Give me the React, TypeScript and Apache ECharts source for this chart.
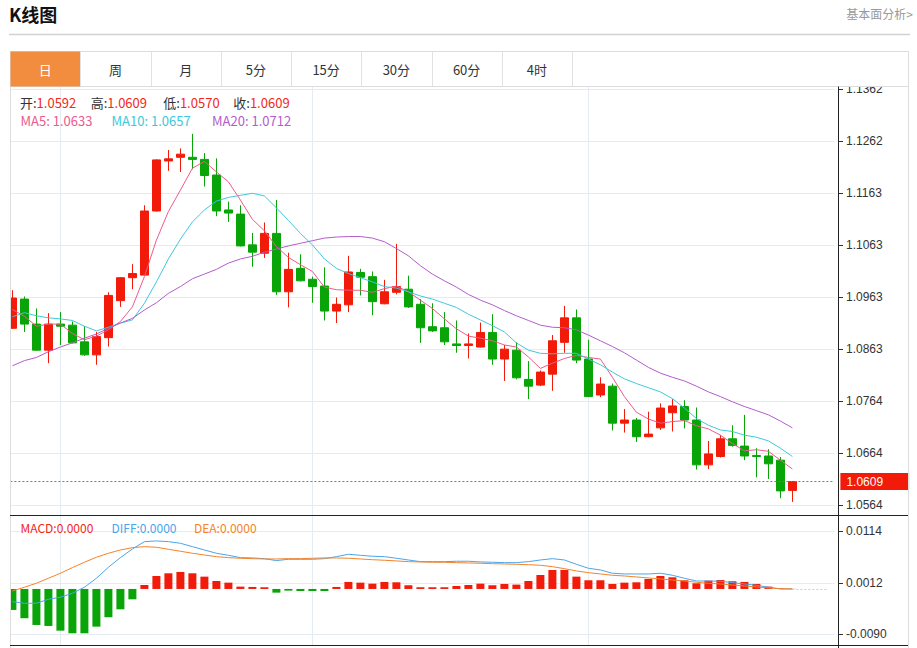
import React, { useEffect, useRef } from 'react';
import * as echarts from 'echarts';

// ---------- data ----------
const categories: string[] = Array.from({ length: 69 }, (_, i) => String(i + 1));

// [open, close, low, high]
const candles: number[][] = [
  [1.0903, 1.0961, 1.0902, 1.0976], [1.0959, 1.0911, 1.0896, 1.0964], [1.0911, 1.0861, 1.0860, 1.0941],
  [1.0861, 1.0911, 1.0836, 1.0932], [1.0911, 1.0907, 1.0871, 1.0934], [1.0909, 1.0875, 1.0874, 1.0916],
  [1.0877, 1.0852, 1.0850, 1.0907], [1.0852, 1.0887, 1.0833, 1.0896], [1.0885, 1.0966, 1.0868, 1.0972],
  [1.0956, 1.1000, 1.0944, 1.1001], [1.1000, 1.1008, 1.0978, 1.1026], [1.1005, 1.1128, 1.1004, 1.1139],
  [1.1128, 1.1226, 1.1127, 1.1227], [1.1224, 1.1228, 1.1205, 1.1245], [1.1231, 1.1237, 1.1203, 1.1248],
  [1.1231, 1.1227, 1.1208, 1.1276], [1.1227, 1.1196, 1.1175, 1.1239], [1.1197, 1.1128, 1.1118, 1.1229],
  [1.1130, 1.1124, 1.1107, 1.1146], [1.1122, 1.1061, 1.1060, 1.1139], [1.1063, 1.1049, 1.1021, 1.1086],
  [1.1047, 1.1085, 1.1038, 1.1106], [1.1085, 1.0973, 1.0967, 1.1149], [1.0973, 1.1016, 1.0943, 1.1048],
  [1.1018, 1.0994, 1.0993, 1.1045], [1.0997, 1.0983, 1.0952, 1.1002], [1.0984, 1.0936, 1.0918, 1.1020],
  [1.0936, 1.0949, 1.0913, 1.0962], [1.0948, 1.1011, 1.0934, 1.1042], [1.1010, 1.1001, 1.0966, 1.1017],
  [1.1002, 1.0954, 1.0928, 1.1012], [1.0950, 1.0973, 1.0949, 1.0996], [1.0972, 1.0983, 1.0968, 1.1065],
  [1.0978, 1.0944, 1.0942, 1.1004], [1.0949, 1.0904, 1.0875, 1.0959], [1.0906, 1.0898, 1.0896, 1.0951],
  [1.0904, 1.0877, 1.0871, 1.0934], [1.0873, 1.0870, 1.0856, 1.0918], [1.0870, 1.0873, 1.0845, 1.0893],
  [1.0867, 1.0895, 1.0866, 1.0914], [1.0895, 1.0844, 1.0833, 1.0930], [1.0844, 1.0863, 1.0802, 1.0871],
  [1.0861, 1.0808, 1.0805, 1.0876], [1.0805, 1.0792, 1.0767, 1.0840], [1.0794, 1.0819, 1.0792, 1.0822],
  [1.0815, 1.0879, 1.0783, 1.0890], [1.0876, 1.0923, 1.0856, 1.0946], [1.0923, 1.0842, 1.0836, 1.0939],
  [1.0844, 1.0772, 1.0771, 1.0881], [1.0775, 1.0796, 1.0771, 1.0809], [1.0792, 1.0721, 1.0707, 1.0797],
  [1.0721, 1.0727, 1.0703, 1.0748], [1.0727, 1.0695, 1.0685, 1.0731], [1.0695, 1.0700, 1.0694, 1.0743],
  [1.0712, 1.0750, 1.0708, 1.0759], [1.0741, 1.0754, 1.0705, 1.0767], [1.0753, 1.0727, 1.0711, 1.0765],
  [1.0727, 1.0641, 1.0632, 1.0751], [1.0641, 1.0662, 1.0633, 1.0687], [1.0657, 1.0691, 1.0655, 1.0698],
  [1.0691, 1.0678, 1.0676, 1.0717], [1.0677, 1.0658, 1.0650, 1.0737], [1.0659, 1.0657, 1.0617, 1.0673],
  [1.0658, 1.0643, 1.0614, 1.0671], [1.0650, 1.0591, 1.0577, 1.0656], [1.0592, 1.0609, 1.0570, 1.0609],
];

const ma5: number[] = [
  1.0939, 1.0926, 1.0907, 1.0911, 1.0911, 1.0893, 1.0881, 1.0888, 1.0900, 1.0916,
  1.0944, 1.1002, 1.1072, 1.1127, 1.1168, 1.1210, 1.1223, 1.1203, 1.1184, 1.1149,
  1.1112, 1.1090, 1.1060, 1.1039, 1.1025, 1.1012, 1.0982, 1.0977, 1.0976, 1.0976,
  1.0972, 1.0979, 1.0984, 1.0973, 1.0957, 1.0941, 1.0921, 1.0902, 1.0888, 1.0884,
  1.0879, 1.0871, 1.0867, 1.0848, 1.0826, 1.0836, 1.0845, 1.0851, 1.0847, 1.0844,
  1.0809, 1.0772, 1.0742, 1.0729, 1.0721, 1.0724, 1.0726, 1.0716, 1.0710, 1.0698,
  1.0682, 1.0668, 1.0670, 1.0667, 1.0650, 1.0633,
];
const ma10: number[] = [
  1.0925, 1.0933, 1.0927, 1.0923, 1.0921, 1.0918, 1.0907, 1.0898, 1.0905, 1.0913,
  1.0919, 1.0951, 1.0992, 1.1036, 1.1074, 1.1107, 1.1130, 1.1147, 1.1154, 1.1158,
  1.1162, 1.1157, 1.1134, 1.1110, 1.1085, 1.1063, 1.1036, 1.1018, 1.1008, 1.1000,
  1.0992, 1.0983, 1.0980, 1.0973, 1.0965, 1.0959, 1.0951, 1.0943, 1.0930, 1.0919,
  1.0908, 1.0896, 1.0875, 1.0861, 1.0855, 1.0854, 1.0855, 1.0855, 1.0844, 1.0833,
  1.0819, 1.0806, 1.0797, 1.0789, 1.0781, 1.0768, 1.0750, 1.0730, 1.0717, 1.0708,
  1.0705, 1.0698, 1.0694, 1.0687, 1.0673, 1.0657,
];
const ma20: number[] = [
  1.0831, 1.0841, 1.0847, 1.0858, 1.0867, 1.0875, 1.0884, 1.0892, 1.0903, 1.0913,
  1.0922, 1.0938, 1.0952, 1.0970, 1.0983, 1.0998, 1.1007, 1.1016, 1.1028, 1.1036,
  1.1041, 1.1049, 1.1055, 1.1061, 1.1066, 1.1071, 1.1076, 1.1078, 1.1079, 1.1079,
  1.1076, 1.1069, 1.1056, 1.1042, 1.1023, 1.1007, 1.0994, 1.0982, 1.0968, 1.0957,
  1.0948, 1.0937, 1.0927, 1.0918, 1.0909, 1.0905, 1.0904, 1.0900, 1.0890, 1.0879,
  1.0868, 1.0856, 1.0842, 1.0828, 1.0817, 1.0809, 1.0802, 1.0792, 1.0781, 1.0772,
  1.0762, 1.0753, 1.0745, 1.0737, 1.0725, 1.0712,
];

const macdHist: number[] = [
  -0.00416, -0.0058, -0.00713, -0.00733, -0.00826, -0.00878, -0.00878, -0.00746, -0.0056, -0.00403, -0.00205,
  0.00079, 0.00257, 0.0031, 0.00337, 0.0031, 0.00244, 0.00158, 0.00125, 0.00046, 0.0004, 0.00034,
  -0.00073, -0.00033, -0.0004, -0.0004, -0.0004,
  0.0004, 0.00139, 0.00125, 0.00105, 0.00139, 0.00132, 0.00073, 0.00034, 0.00034, 0.00034,
  0.00059, 0.00079, 0.00105, 0.00073, 0.00099, 0.00086, 0.00158, 0.00277, 0.00376, 0.00376,
  0.00244, 0.00172, 0.00172, 0.00099, 0.00125, 0.00132, 0.00198, 0.00257, 0.00231, 0.00172,
  0.00112, 0.00165, 0.00178, 0.00152, 0.00139, 0.00099, 0.00046, 0.00014, 0.00002,
];
const diffLine: number[] = [
  -0.00252, -0.00283, -0.00283, -0.00204, -0.00164, -0.00085, 0.00034, 0.00212, 0.0043, 0.0062, 0.00792,
  0.00937, 0.00951, 0.00937, 0.00905, 0.00838, 0.00772, 0.00707, 0.00667, 0.0062, 0.00614,
  0.006, 0.00561, 0.00588, 0.00588, 0.00588, 0.006, 0.0064, 0.00687, 0.00667, 0.00648,
  0.0064, 0.00608, 0.00574, 0.00541, 0.00541, 0.00541, 0.00549, 0.00549, 0.00535, 0.00529,
  0.00521, 0.00521, 0.00541, 0.00574, 0.006, 0.00574, 0.00489, 0.0041, 0.00376, 0.00311,
  0.00297, 0.00297, 0.00297, 0.00311, 0.00271, 0.00212, 0.00158, 0.00158, 0.00153, 0.00125,
  0.00099, 0.00073, 0.00034, 0, 0,
];
const deaLine: number[] = [
  -0.0004, 0.00034, 0.00113, 0.00212, 0.00311, 0.00422, 0.00529, 0.00628, 0.00707, 0.00772, 0.00818,
  0.00838, 0.00826, 0.00786, 0.00747, 0.00707, 0.00673, 0.0064, 0.0062, 0.00608, 0.006,
  0.00594, 0.00594, 0.006, 0.006, 0.00608, 0.00614, 0.00614, 0.00608, 0.00594, 0.0058,
  0.00568, 0.00555, 0.00541, 0.00535, 0.00529, 0.00529, 0.00521, 0.00515, 0.00509, 0.00501,
  0.00495, 0.00489, 0.00481, 0.00469, 0.00442, 0.00402, 0.00357, 0.00323, 0.00297, 0.00271,
  0.00257, 0.00238, 0.00218, 0.00198, 0.00178, 0.00158, 0.00133, 0.00113, 0.00099, 0.00079,
  0.00059, 0.0004, 0.0002, 0.00006, 0,
];

const priceTicks: string[] = ['1.0564', '1.0664', '1.0764', '1.0863', '1.0963', '1.1063', '1.1163', '1.1262', '1.1362'];
const macdTicks: string[] = ['-0.0090', '0.0012', '0.0114'];
const tabs: string[] = ['日', '周', '月', '5分', '15分', '30分', '60分', '4时'];
const vLineIdx: number[] = [4, 25, 48];

// ---------- styles ----------
const UP = '#f21a08';
const DOWN = '#08a408';
const C_MA5 = '#ee5a8a';
const C_MA10 = '#3ec8dc';
const C_MA20 = '#b45ccc';
const C_DIFF = '#4aa6ea';
const C_DEA = '#f5832a';
const GRID_C = '#e4ebf2';
const CJK = '"Noto Sans CJK SC", sans-serif';
const NUMF = '"Liberation Sans", Arial, sans-serif';

const pMin = 1.0564, pMax = 1.1362, pStep = 0.009975;
const mMin = -0.009, mMax = 0.0114, mStep = 0.0102;

function buildOption() {
  const last = candles[candles.length - 1];
  const lastClose = last[1];
  const f4 = (v: number) => v.toFixed(4);

  const g: any[] = [];
  // header cover + title
  g.push({ type: 'rect', z: 50, silent: true, shape: { x: 0, y: 0, width: 917, height: 86.5 }, style: { fill: '#fff' } });
  g.push({ type: 'rect', z: 50, silent: true, shape: { x: 0, y: 86, width: 10, height: 562 }, style: { fill: '#fff' } });
  g.push({ type: 'text', z: 51, x: 9, y: 14, style: { text: 'K线图', fill: '#111', font: 'bold 18px ' + CJK, textVerticalAlign: 'middle' } });
  g.push({ type: 'text', z: 51, x: 913, y: 13, style: { text: '基本面分析>', fill: '#999', font: '12px ' + CJK, textAlign: 'right', textVerticalAlign: 'middle' } });
  g.push({ type: 'line', z: 51, silent: true, shape: { x1: 9, y1: 34.5, x2: 910, y2: 34.5 }, style: { stroke: '#d2d2d2', lineWidth: 1.5 } });
  // tabs
  const tabW = 70.25;
  g.push({ type: 'rect', z: 51, silent: true, shape: { x: 10.5, y: 51.5, width: 898, height: 35 }, style: { fill: '#fff', stroke: '#dddddd', lineWidth: 1 } });
  g.push({ type: 'rect', z: 52, silent: true, shape: { x: 10.5, y: 51.5, width: tabW - 0.5, height: 35 }, style: { fill: '#f28c3f' } });
  tabs.forEach((t, i) => {
    const x0 = 10 + tabW * i;
    g.push({ type: 'line', z: 52, silent: true, shape: { x1: Math.round(x0 + tabW) + 0.5, y1: 52, x2: Math.round(x0 + tabW) + 0.5, y2: 86 }, style: { stroke: '#e2e2e2', lineWidth: 1 } });
    g.push({ type: 'text', z: 53, x: x0 + tabW / 2, y: 69, style: { text: t, fill: i === 0 ? '#fff' : '#333', font: '13px ' + CJK, textAlign: 'center', textVerticalAlign: 'middle' } });
  });
  // frame lines
  g.push({ type: 'line', z: 51, silent: true, shape: { x1: 10.5, y1: 86, x2: 10.5, y2: 648 }, style: { stroke: '#dddddd', lineWidth: 1 } });
  g.push({ type: 'line', z: 51, silent: true, shape: { x1: 908.5, y1: 51, x2: 908.5, y2: 648 }, style: { stroke: '#dddddd', lineWidth: 1 } });
  g.push({ type: 'line', z: 51, silent: true, shape: { x1: 838.5, y1: 86.5, x2: 838.5, y2: 648 }, style: { stroke: '#222', lineWidth: 1 } });
  g.push({ type: 'line', z: 51, silent: true, shape: { x1: 10, y1: 515.5, x2: 908, y2: 515.5 }, style: { stroke: '#222', lineWidth: 1 } });
  g.push({ type: 'line', z: 51, silent: true, shape: { x1: 10, y1: 645.5, x2: 908, y2: 645.5 }, style: { stroke: '#222', lineWidth: 1 } });

  // candle legend
  const rich = {
    k: { fill: '#333', font: '13px ' + CJK },
    v: { fill: '#f2281c', font: '13px ' + CJK },
  };
  const ohlc: [string, number, number][] = [['开', last[0], 20], ['高', last[3], 90.7], ['低', last[2], 163.3], ['收', last[1], 233.3]];
  ohlc.forEach(([k, v, x]) => {
    g.push({ type: 'text', z: 30, x, y: 102, style: { text: `{k|${k}:}{v|${f4(v)}}`, rich, textVerticalAlign: 'middle' } });
  });
  const mas: [string, number[], string, number][] = [['MA5', ma5, C_MA5, 20.5], ['MA10', ma10, C_MA10, 111.5], ['MA20', ma20, C_MA20, 212]];
  mas.forEach(([n, arr, c, x]) => {
    g.push({ type: 'text', z: 30, x, y: 120.5, style: { text: `${n}: ${f4(arr[arr.length - 1])}`, fill: c, font: '13px ' + CJK, textVerticalAlign: 'middle' } });
  });
  const macdLeg: [string, number[], string, number][] = [['MACD', macdHist, '#f2281c', 20.5], ['DIFF', diffLine, C_DIFF, 111.5], ['DEA', deaLine, C_DEA, 194]];
  macdLeg.forEach(([n, arr, c, x]) => {
    g.push({ type: 'text', z: 30, x, y: 527, style: { text: `${n}:${f4(Math.abs(arr[arr.length - 1]) < 0.00005 ? 0 : arr[arr.length - 1])}`, fill: c, font: '12px ' + CJK, textVerticalAlign: 'middle' } });
  });

  const hiddenX = (gridIndex: number) => ({
    type: 'category', gridIndex, data: categories, boundaryGap: true,
    axisLine: { show: false }, axisTick: { show: false }, axisLabel: { show: false }, splitLine: { show: false },
  });

  return {
    animation: false,
    backgroundColor: '#fff',
    textStyle: { fontFamily: CJK },
    grid: [
      { left: 6.4, top: 89, width: 828, height: 416 },
      { left: 6.4, top: 531.4, width: 828, height: 103 },
      { left: 12.4, top: 87, width: 816, height: 558 },
    ],
    xAxis: [
      hiddenX(0),
      hiddenX(1),
      {
        type: 'category', gridIndex: 2, data: categories, boundaryGap: false,
        axisLine: { show: false }, axisTick: { show: false }, axisLabel: { show: false },
        splitLine: { show: true, interval: (idx: number) => vLineIdx.includes(idx), lineStyle: { color: GRID_C, width: 1 } },
      },
    ],
    yAxis: [
      {
        type: 'value', gridIndex: 0, position: 'right', offset: 3.6, min: pMin, max: pMax, interval: pStep,
        axisLine: { show: false },
        axisTick: { show: true, length: 5, lineStyle: { color: '#333' } },
        axisLabel: { color: '#333', fontSize: 12, fontFamily: NUMF, margin: 8, formatter: (v: number) => priceTicks[Math.round((v - pMin) / pStep)] },
        splitLine: { show: true, lineStyle: { color: GRID_C, width: 1 } },
      },
      {
        type: 'value', gridIndex: 1, position: 'right', offset: 3.6, min: mMin, max: mMax, interval: mStep,
        axisLine: { show: false },
        axisTick: { show: true, length: 5, lineStyle: { color: '#333' } },
        axisLabel: { color: '#333', fontSize: 12, fontFamily: NUMF, margin: 8, formatter: (v: number) => macdTicks[Math.round((v - mMin) / mStep)] },
        splitLine: { show: true, lineStyle: { color: GRID_C, width: 1 } },
      },
      { type: 'value', gridIndex: 2, show: false, min: 0, max: 1, splitLine: { show: false } },
    ],
    series: [
      {
        type: 'candlestick', xAxisIndex: 0, yAxisIndex: 0, data: candles, barWidth: 8,
        itemStyle: { color: UP, color0: DOWN, borderColor: UP, borderColor0: DOWN, borderWidth: 1 },
        markLine: {
          silent: true, symbol: ['none', 'none'], animation: false, precision: 4,
          lineStyle: { color: '#f04a3a', type: [2, 2], width: 1 },
          label: {
            position: 'end', distance: 6, formatter: f4(lastClose), color: '#fff', backgroundColor: '#f21a08',
            padding: [3, 26, 2, 6], fontSize: 12, fontFamily: NUMF,
          },
          data: [{ yAxis: lastClose }],
        },
      },
      { type: 'line', xAxisIndex: 0, yAxisIndex: 0, data: ma5, symbol: 'none', lineStyle: { color: C_MA5, width: 1 }, z: 3 },
      { type: 'line', xAxisIndex: 0, yAxisIndex: 0, data: ma10, symbol: 'none', lineStyle: { color: C_MA10, width: 1 }, z: 3 },
      { type: 'line', xAxisIndex: 0, yAxisIndex: 0, data: ma20, symbol: 'none', lineStyle: { color: C_MA20, width: 1 }, z: 3 },
      {
        type: 'bar', xAxisIndex: 1, yAxisIndex: 1, data: macdHist, barWidth: 8,
        itemStyle: { color: (p: any) => (p.value >= 0 ? UP : DOWN) },
        markLine: {
          silent: true, symbol: ['none', 'none'], animation: false, precision: 6,
          lineStyle: { color: '#a8d6ee', type: [2, 2], width: 1 }, label: { show: false },
          data: [[{ coord: [categories[65], 0] }, { coord: [categories[68], 0] }]],
        },
      },
      { type: 'line', xAxisIndex: 1, yAxisIndex: 1, data: diffLine, symbol: 'none', lineStyle: { color: C_DIFF, width: 1 }, z: 3 },
      { type: 'line', xAxisIndex: 1, yAxisIndex: 1, data: deaLine, symbol: 'none', lineStyle: { color: C_DEA, width: 1 }, z: 3 },
    ],
    graphic: g,
  };
}

export default function App() {
  const ref = useRef<HTMLDivElement>(null);
  useEffect(() => {
    if (!ref.current) return;
    const chart = echarts.init(ref.current, null, { renderer: 'svg' });
    chart.setOption(buildOption() as any);
    return () => chart.dispose();
  }, []);
  return (
    <div
      ref={ref}
      style={{ position: 'fixed', left: 0, top: 0, width: 917, height: 648, background: '#fff' }}
    />
  );
}
